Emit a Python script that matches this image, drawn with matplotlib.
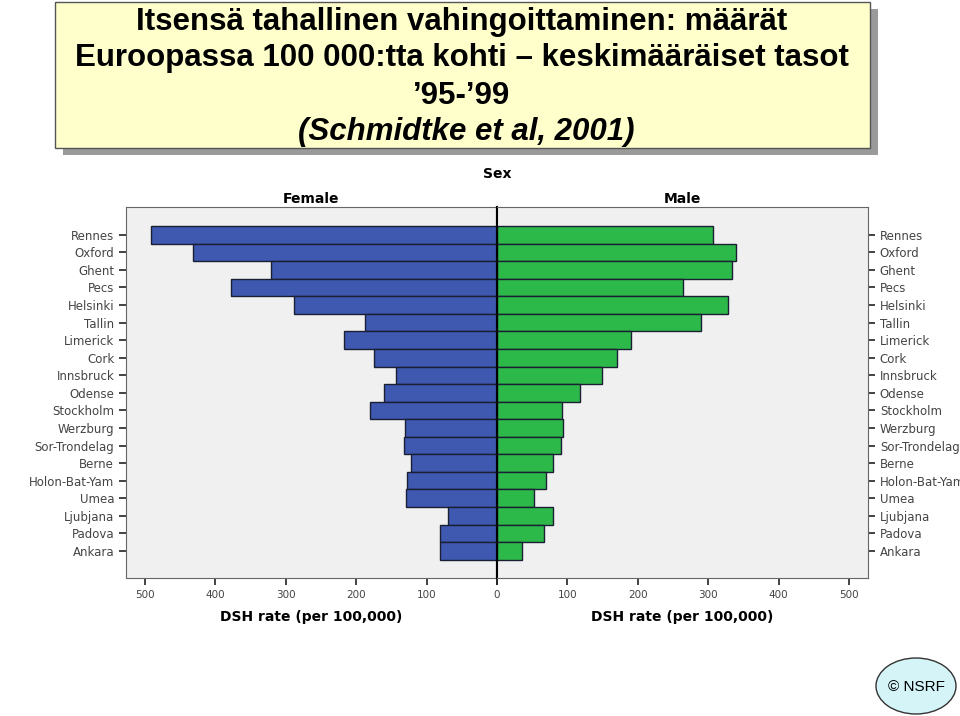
# -*- coding: utf-8 -*-

import matplotlib.pyplot as plt
import numpy as np
from matplotlib.patches import Rectangle, Ellipse

# ------------------------------------------------------------
cities = ["Rennes", "Oxford", "Ghent", "Pecs", "Helsinki", "Tallin", "Limerick",
          "Cork", "Innsbruck", "Odense", "Stockholm", "Werzburg", "Sor-Trondelag",
          "Berne", "Holon-Bat-Yam", "Umea", "Ljubjana", "Padova", "Ankara"]
female = [492, 432, 321, 378, 288, 187, 217, 175, 143, 161, 181, 130, 132,
          122, 128, 129, 69, 81, 81]
male = [307, 339, 334, 264, 328, 290, 190, 170, 149, 118, 92, 94, 91,
        79, 69, 53, 80, 67, 36]
xticks = [0, 100, 200, 300, 400, 500]

title_lines = ["Itsensä tahallinen vahingoittaminen: määrät",
               "Euroopassa 100 000:tta kohti – keskimääräiset tasot",
               "’95-’99"]
cite = "(Schmidtke et al, 2001)"

W, H = 960, 716
blue = "#3f58b0"
green = "#2db84a"
edge = "#1a1f33"
bg = "#f0f0f0"
tick_c = "#444444"


def fx(px):
    return px / W


def fy(py):
    return 1 - py / H


def style_ax(ax):
    ax.set_facecolor(bg)
    for s in ax.spines.values():
        s.set_color("#666666")
        s.set_linewidth(0.8)
    ax.tick_params(axis="both", colors="#222222", labelcolor=tick_c,
                   length=5, width=1.2)
    ax.tick_params(axis="x", labelsize=7.5)
    ax.tick_params(axis="y", labelsize=8.5)
    ax.set_ylim(19.54, -1.58)


fig = plt.figure(figsize=(W / 100, H / 100), dpi=100)
fig.patch.set_facecolor("white")

y = np.arange(len(cities))
xmax = 527

# ------------------------------------------------------------
axL = fig.add_axes([fx(126), fy(578), fx(497 - 126), (578 - 207) / H])
style_ax(axL)
axL.barh(y, female, height=1.0, color=blue, edgecolor=edge, linewidth=1.0)
axL.set_xlim(xmax, 0)
axL.set_yticks(y)
axL.set_yticklabels(cities)
axL.set_xticks(xticks)
axL.set_xticklabels([str(v) for v in xticks])
axL.spines["right"].set_color("black")
axL.spines["right"].set_linewidth(1.5)
axL.set_xlabel("DSH rate (per 100,000)", fontsize=10, fontweight="bold",
               labelpad=7)
axL.set_title("Female", fontsize=10, fontweight="bold", pad=3)

axR = fig.add_axes([fx(497), fy(578), fx(868 - 497), (578 - 207) / H])
style_ax(axR)
axR.barh(y, male, height=1.0, color=green, edgecolor=edge, linewidth=1.0)
axR.set_xlim(0, xmax)
axR.yaxis.tick_right()
axR.set_yticks(y)
axR.set_yticklabels(cities)
axR.set_xticks(xticks)
axR.set_xticklabels([""] + [str(v) for v in xticks[1:]])
axR.spines["left"].set_color("black")
axR.spines["left"].set_linewidth(1.5)
axR.set_xlabel("DSH rate (per 100,000)", fontsize=10, fontweight="bold",
               labelpad=7)
axR.set_title("Male", fontsize=10, fontweight="bold", pad=3)

fig.text(fx(497), fy(174), "Sex", ha="center", va="center", fontsize=10,
         fontweight="bold")

# ------------------------------------------------------------
# title box with shadow
shadow = Rectangle((fx(63), fy(155)), fx(870 - 55), (148 - 2) / H,
                   transform=fig.transFigure, facecolor="#9a9a9a",
                   edgecolor="none", zorder=5)
box = Rectangle((fx(55), fy(148)), fx(870 - 55), (148 - 2) / H,
                transform=fig.transFigure, facecolor="#ffffcc",
                edgecolor="#555555", linewidth=1.0, zorder=6)
fig.patches.extend([shadow, box])

tfam = ["Liberation Sans Narrow", "Liberation Sans", "DejaVu Sans"]
line_y = [22, 58, 96]
for txt, ly in zip(title_lines, line_y):
    fig.text(fx(462), fy(ly), txt, ha="center", va="center", fontsize=22.5,
             fontweight="bold", family=tfam, zorder=7)
fig.text(fx(466), fy(132), cite, ha="center", va="center", fontsize=22.5,
         fontweight="bold", style="italic", family=tfam, zorder=7)

# NSRF badge
ell = Ellipse((fx(916), fy(686)), fx(80), 56 / H, transform=fig.transFigure,
              facecolor="#d4f4f8", edgecolor="#333333", linewidth=1.0)
fig.patches.append(ell)
fig.text(fx(916), fy(687), "© NSRF", ha="center", va="center", fontsize=11,
         family=["Liberation Sans", "DejaVu Sans"])

plt.savefig("out.png", dpi=100)
